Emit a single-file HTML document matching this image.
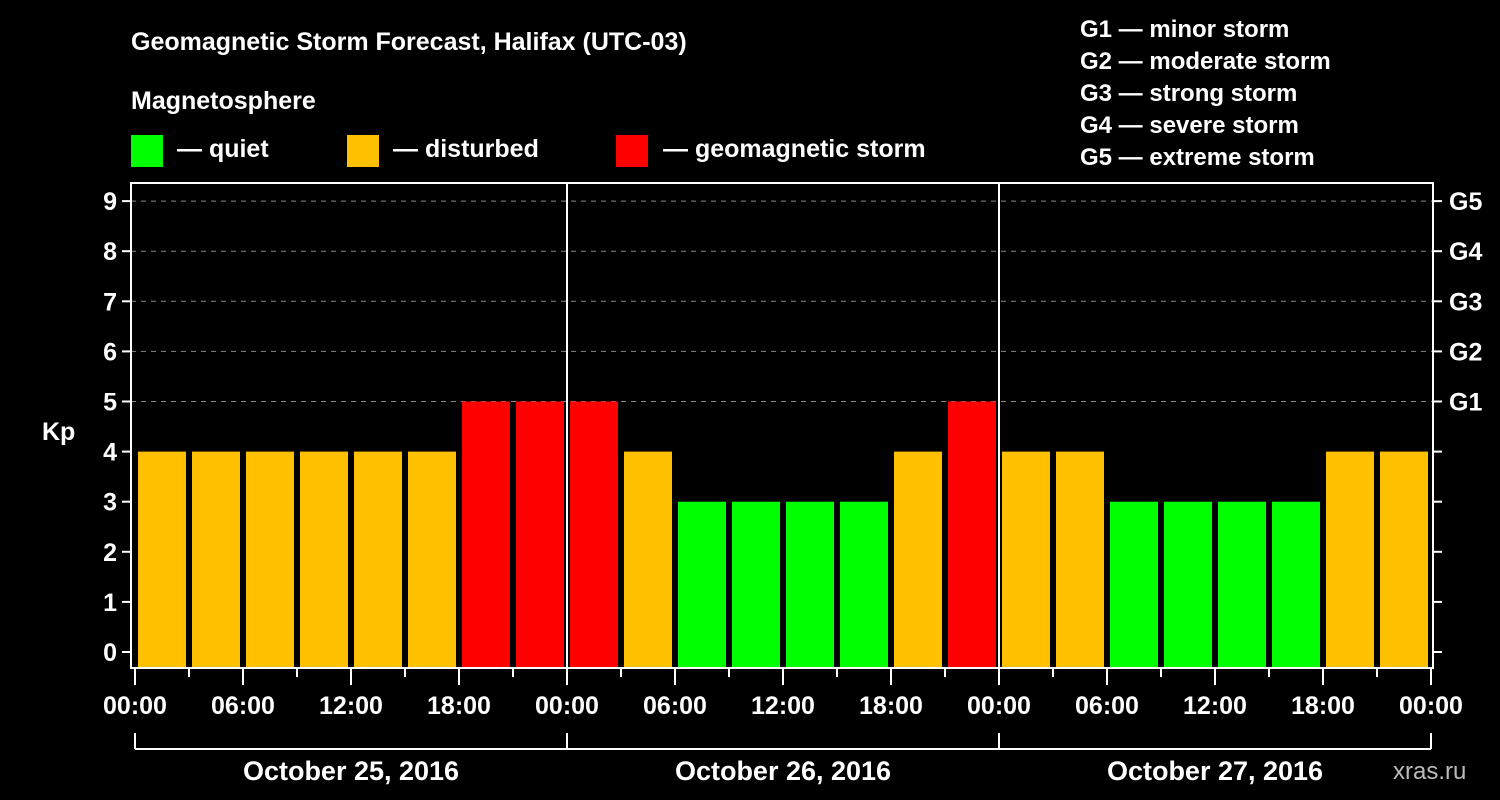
<!DOCTYPE html>
<html><head><meta charset="utf-8"><style>
body{margin:0;background:#000;}
svg{display:block;font-family:"Liberation Sans",Arial,sans-serif;font-weight:bold;}
</style></head><body>
<svg width="1500" height="800" viewBox="0 0 1500 800">
<rect width="1500" height="800" fill="#000"/>
<g fill="#fff" font-size="25">
<text x="131" y="50">Geomagnetic Storm Forecast, Halifax (UTC-03)</text>
<text x="131" y="109">Magnetosphere</text>
<rect x="131" y="135" width="32" height="32" fill="#00ff00"/>
<text x="177" y="157">— quiet</text>
<rect x="347" y="135" width="32" height="32" fill="#ffc000"/>
<text x="393" y="157">— disturbed</text>
<rect x="616" y="135" width="32" height="32" fill="#ff0000"/>
<text x="663" y="157">— geomagnetic storm</text>
<g font-size="24">
<text x="1080" y="37">G1 — minor storm</text>
<text x="1080" y="69">G2 — moderate storm</text>
<text x="1080" y="101">G3 — strong storm</text>
<text x="1080" y="133">G4 — severe storm</text>
<text x="1080" y="165">G5 — extreme storm</text>
</g>
<text x="42" y="440">Kp</text>
<text x="1393" y="779" font-size="24" fill="#bbb" font-weight="normal">xras.ru</text>
</g>
<g id="grid"></g>
<g id="bars"></g>
<g id="axes"></g>
</svg>
<script>
const kpValues=[4,4,4,4,4,4,5,5, 5,4,3,3,3,3,4,5, 4,4,3,3,3,3,4,4];
const yTicks=[0,1,2,3,4,5,6,7,8,9];
const gLabels=["G1","G2","G3","G4","G5"];
const gLevels=[5,6,7,8,9];
const xTickLabels=["00:00","06:00","12:00","18:00","00:00","06:00","12:00","18:00","00:00","06:00","12:00","18:00","00:00"];
const dayLabels=["October 25, 2016","October 26, 2016","October 27, 2016"];
const NS="http://www.w3.org/2000/svg";
const X0=135,STEP=54,Y0=652,YU=50.1,TOP=183,BOT=668,LEFT=131,RIGHT=1433;
const xs=i=>X0+i*STEP;
const ys=v=>Y0-v*YU;
function mk(tag,attrs,parent,text){const e=document.createElementNS(NS,tag);for(const k in attrs)e.setAttribute(k,attrs[k]);if(text!==undefined)e.textContent=text;document.getElementById(parent).appendChild(e);return e;}
// grid
gLevels.forEach(v=>{const l=mk('line',{x1:LEFT,x2:RIGHT,y1:ys(v),y2:ys(v),stroke:'#888','stroke-dasharray':'5,5','stroke-width':1},'grid');

});
// bars
kpValues.forEach((v,i)=>{const c=v>=5?'#ff0000':(v>=4?'#ffc000':'#00ff00');
const r=mk('rect',{x:xs(i)+3,y:ys(v),width:48,height:BOT-ys(v),fill:c},'bars');

});
// frame
const f=mk('rect',{x:LEFT,y:TOP,width:RIGHT-LEFT,height:BOT-TOP,fill:'none',stroke:'#fff','stroke-width':2},'axes');


[1,2].forEach(d=>{const l=mk('line',{x1:xs(d*8),x2:xs(d*8),y1:TOP,y2:BOT,stroke:'#fff','stroke-width':2},'axes');

});
yTicks.forEach(v=>{mk('line',{x1:LEFT-9,x2:LEFT,y1:ys(v),y2:ys(v),stroke:'#fff','stroke-width':2},'axes');
mk('line',{x1:RIGHT,x2:RIGHT+9,y1:ys(v),y2:ys(v),stroke:'#fff','stroke-width':2},'axes');
const t=mk('text',{x:LEFT-14,y:ys(v)+9,fill:'#fff','font-size':25,'text-anchor':'end'},'axes',String(v));

});
gLabels.forEach((g,i)=>{const t=mk('text',{x:RIGHT+16,y:ys(gLevels[i])+9,fill:'#fff','font-size':25},'axes',g);

});
for(let i=0;i<=24;i++){const major=i%2===0;mk('line',{x1:xs(i),x2:xs(i),y1:BOT,y2:BOT+(major?17:9),stroke:'#fff','stroke-width':2},'axes');}
xTickLabels.forEach((s,i)=>{const t=mk('text',{x:xs(i*2),y:714,fill:'#fff','font-size':25,'text-anchor':'middle'},'axes',s);

});
mk('line',{x1:xs(0),x2:xs(24),y1:749,y2:749,stroke:'#fff','stroke-width':2},'axes');
for(let d=0;d<=3;d++)mk('line',{x1:xs(d*8),x2:xs(d*8),y1:733,y2:749,stroke:'#fff','stroke-width':2},'axes');
dayLabels.forEach((s,d)=>{const t=mk('text',{x:xs(d*8+4),y:780,fill:'#fff','font-size':27,'text-anchor':'middle'},'axes',s);

});
</script>
</body></html>
